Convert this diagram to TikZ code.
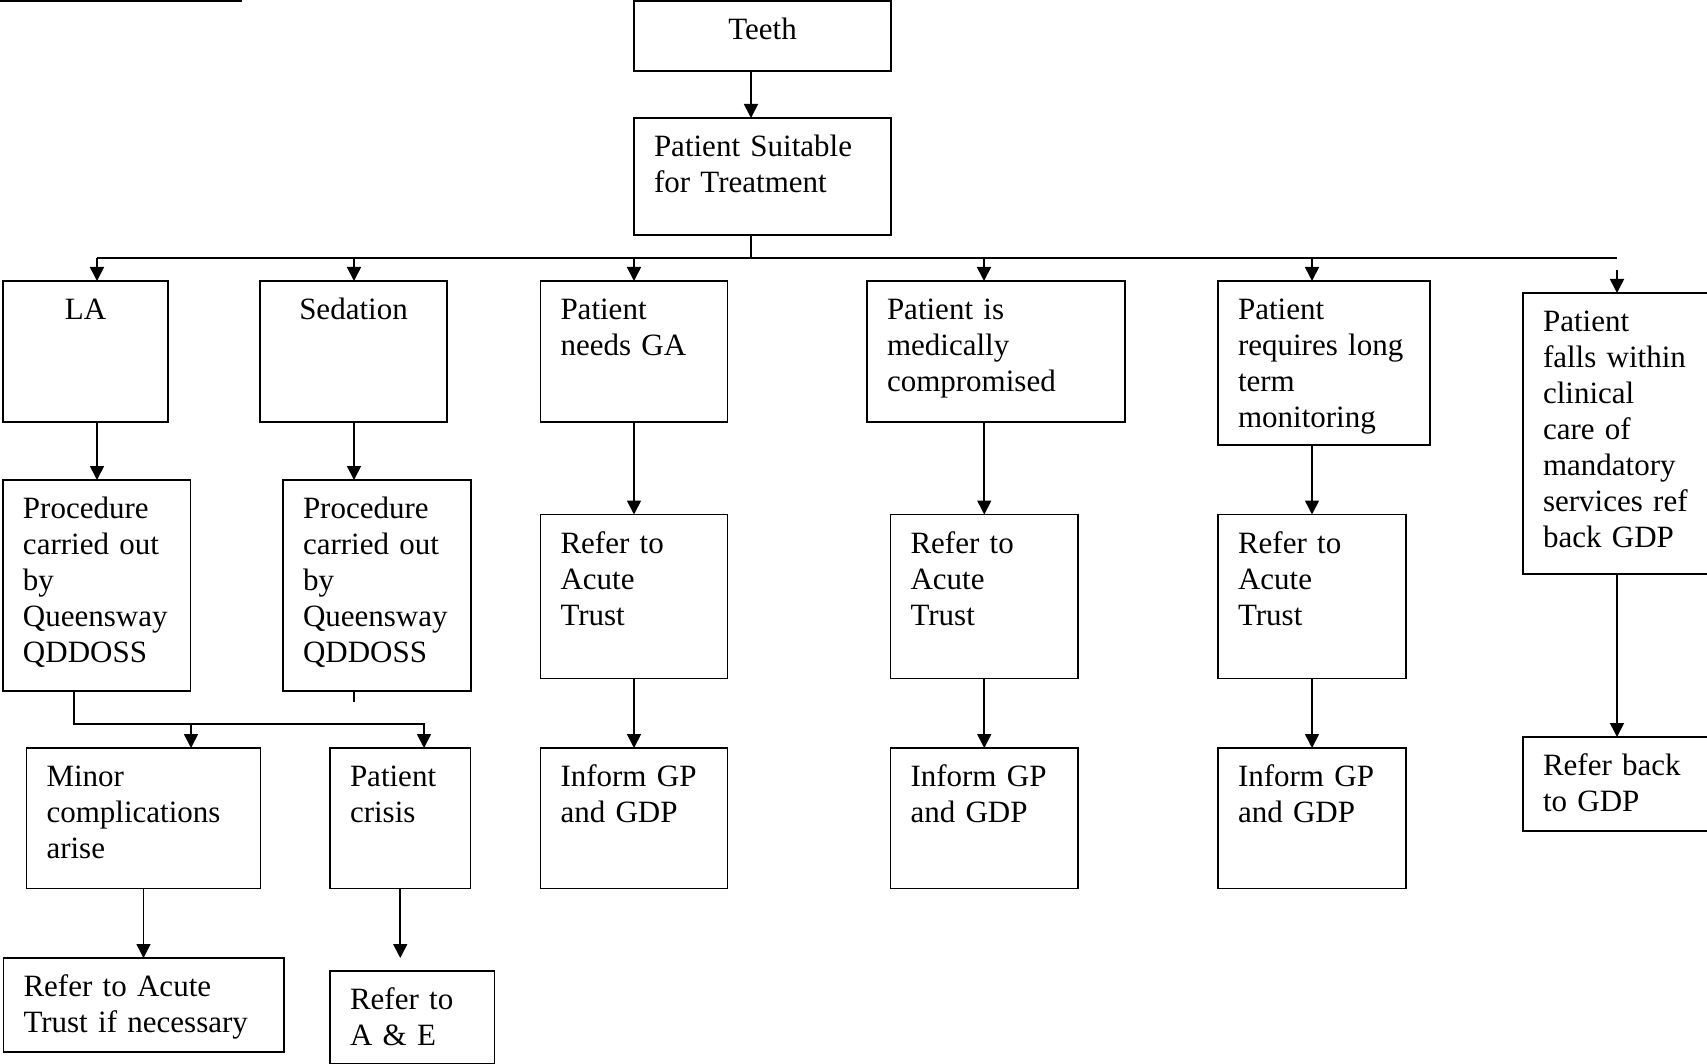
\documentclass[tikz,border=0pt]{standalone}
\usepackage{fontspec}
\setmainfont{Liberation Serif}
\usetikzlibrary{arrows.meta}

\tikzset{every picture/.append style={x=1pt, y=1pt}}
\tikzset{
  box/.style={draw, line width=1.7pt, anchor=north west, outer sep=0pt,
    inner xsep=20pt, inner ysep=0pt, text height=38.5pt, align=left,
    font=\fontsize{31pt}{36pt}\selectfont},
  arr/.style={-{Triangle[length=14pt, width=14pt]}, line width=1.7pt},
  link/.style={line width=1.7pt},
}

\begin{document}
\begin{tikzpicture}
  \useasboundingbox (0,0) rectangle (1707,-1064);
  \draw[link] (0,-1) -- (242,-1);

  \node[box, align=center, text width=217pt, text depth=31.5pt] (teeth) at (634,-1) {Teeth};
  \node[box, text width=217pt, text depth=78.5pt] (suit) at (634,-118) {Patient Suitable\\for Treatment};

  \node[box, align=center, text width=125pt, text depth=102.5pt] (la) at (3,-281) {LA};
  \node[box, align=center, text width=147pt, text depth=102.5pt] (sed) at (260,-281) {Sedation};
  \node[box, text width=147pt, text depth=102.5pt] (ga) at (540.5,-281) {Patient\\needs GA};
  \node[box, text width=218pt, text depth=102.5pt] (med) at (867,-281) {Patient is\\medically\\compromised};
  \node[box, text width=172pt, text depth=125.5pt] (ltm) at (1218,-281) {Patient\\requires long\\term\\monitoring};
  \node[box, text width=148pt, text depth=242.5pt] (mand) at (1523,-293) {Patient\\falls within\\clinical\\care of\\mandatory\\services ref\\back GDP};

  \node[box, text width=147.5pt, text depth=172.5pt] (procla) at (3,-480) {Procedure\\carried out\\by\\Queensway\\QDDOSS};
  \node[box, text width=148pt, text depth=172.5pt] (procsed) at (283,-480) {Procedure\\carried out\\by\\Queensway\\QDDOSS};

  \node[box, text width=147pt, text depth=125.5pt] (refga) at (540.5,-514.5) {Refer to\\Acute\\Trust};
  \node[box, text width=147.5pt, text depth=125.5pt] (refmed) at (890.5,-514.5) {Refer to\\Acute\\Trust};
  \node[box, text width=148pt, text depth=125.5pt] (refltm) at (1218,-514.5) {Refer to\\Acute\\Trust};

  \node[box, text width=194pt, text depth=102pt] (minor) at (26.5,-748) {Minor\\complications\\arise};
  \node[box, text width=100.5pt, text depth=102pt] (crisis) at (330,-748) {Patient\\crisis};
  \node[box, text width=147pt, text depth=102pt] (infga) at (540.5,-748) {Inform GP\\and GDP};
  \node[box, text width=147.5pt, text depth=102pt] (infmed) at (890.5,-748) {Inform GP\\and GDP};
  \node[box, text width=148pt, text depth=102pt] (infltm) at (1218,-748) {Inform GP\\and GDP};
  \node[box, text width=148pt, text depth=55.5pt] (refback) at (1523,-737) {Refer back\\to GDP};

  \node[box, text width=240.5pt, text depth=55.5pt] (refnec) at (3.5,-958) {Refer to Acute\\Trust if necessary};
  \node[box, text width=124.5pt, text depth=54pt] (refae) at (330,-971) {Refer to\\A \& E};

  \coordinate (trunk) at (751,-258);
  \coordinate (busend) at (1617,-258);
  \coordinate (dmand) at (1617,-270);
  \coordinate (stub) at (354,-702);
  \coordinate (jn) at (74,-724);
  \coordinate (jm) at (191,-724);
  \coordinate (jc) at (424,-724);

  \draw[arr] (trunk |- teeth.south) -- (trunk |- suit.north);
  \draw[link] (trunk |- suit.south) -- (trunk);
  \foreach \n/\x in {la/97, sed/354, ga/634, med/984, ltm/1312}{
    \coordinate (d\n) at (\x,-258);
    \draw[arr] (d\n) -- (d\n |- \n.north);
  }
  \draw[link] (dla) -- (busend);
  \draw[arr] (dmand) -- (dmand |- mand.north);

  \draw[arr] (dla |- la.south) -- (dla |- procla.north);
  \draw[arr] (dsed |- sed.south) -- (dsed |- procsed.north);
  \draw[link] (stub |- procsed.south) -- (stub);
  \draw[arr] (jn |- procla.south) -- (jn) -- (jc) -- (jc |- crisis.north);
  \draw[arr] (jm) -- (jm |- minor.north);
  \draw[arr] (minor.south) -- (minor.south |- refnec.north);
  \draw[arr, shorten >=13pt] (crisis.south) -- (crisis.south |- refae.north);

  \draw[arr] (ga.south) -- (ga.south |- refga.north);
  \draw[arr] (refga.south) -- (refga.south |- infga.north);
  \draw[arr] (refmed.north |- med.south) -- (refmed.north);
  \draw[arr] (refmed.south) -- (refmed.south |- infmed.north);
  \draw[arr] (refltm.north |- ltm.south) -- (refltm.north);
  \draw[arr] (refltm.south) -- (refltm.south |- infltm.north);
  \draw[arr] (dmand |- mand.south) -- (dmand |- refback.north);
\end{tikzpicture}
\end{document}
